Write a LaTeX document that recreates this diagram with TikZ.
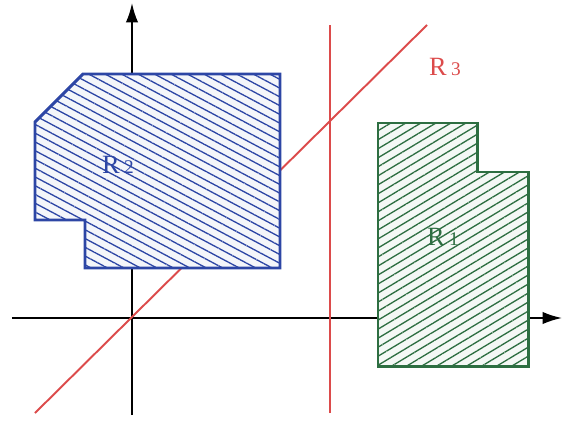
\documentclass[tikz,border=0pt]{standalone}
\usepackage{fontspec}
\setmainfont{Liberation Serif}
\usetikzlibrary{arrows.meta,patterns.meta}
\definecolor{regblue}{RGB}{45,70,165}
\definecolor{reggreen}{RGB}{45,110,65}
\definecolor{regred}{RGB}{220,75,75}
\tikzset{
    axis/.style = {line width=1.1pt, -{Latex[length=11pt,width=7pt]}},
    cut/.style = {regred, line width=1.1pt},
    region/.style = {line width=1.7pt, line join=miter},
    lbl/.style = {inner sep=1pt, font=\fontsize{15}{18}\selectfont}
}
\newcommand{\reglabel}[1]{R\,{\fontsize{11}{13}\selectfont #1}}

\begin{document}
\begin{tikzpicture}
    \useasboundingbox (-2.64,-2.06) rectangle (8.68,6.36);

    % axes
    \coordinate (xs) at (-2.4,0);
    \coordinate (xe) at (8.6,0);
    \coordinate (ys) at (0,-1.94);
    \coordinate (ye) at (0,6.3);
    \draw[axis] (xs) -- (xe);
    \draw[axis] (ys) -- (ye);

    % separating lines R3
    \coordinate (vs) at (3.96,-1.9);
    \coordinate (ve) at (3.96,5.86);
    \coordinate (ds) at (-1.94,-1.9);
    \coordinate (de) at (5.9,5.86);
    \draw[cut] (vs) -- (ve);
    \draw[cut] (ds) -- (de);

    % region R2
    \draw[region, regblue, preaction={fill=regblue!5},
          pattern={Lines[angle=-28,distance=4.4pt,line width=0.75pt]}, pattern color=regblue]
        (-0.98,4.88) -- (2.96,4.88) -- (2.96,1.0) -- (-0.94,1.0) -- (-0.94,1.96)
        -- (-1.94,1.96) -- (-1.94,3.92) -- cycle;

    % region R1
    \draw[region, reggreen, preaction={fill=reggreen!5},
          pattern={Lines[angle=31,distance=4.4pt,line width=0.75pt]}, pattern color=reggreen]
        (4.92,3.90) -- (6.9,3.9) -- (6.9,2.92) -- (7.92,2.92) -- (7.92,-0.96)
        -- (4.92,-0.96) -- cycle;

    % labels
    \node[lbl, text=regblue] (r2) at (-0.28,3.06) {\reglabel{2}};
    \node[lbl, text=reggreen] (r1) at (6.22,1.62) {\reglabel{1}};
    \node[lbl, text=regred] (r3) at (6.26,5.02) {\reglabel{3}};
\end{tikzpicture}
\end{document}
